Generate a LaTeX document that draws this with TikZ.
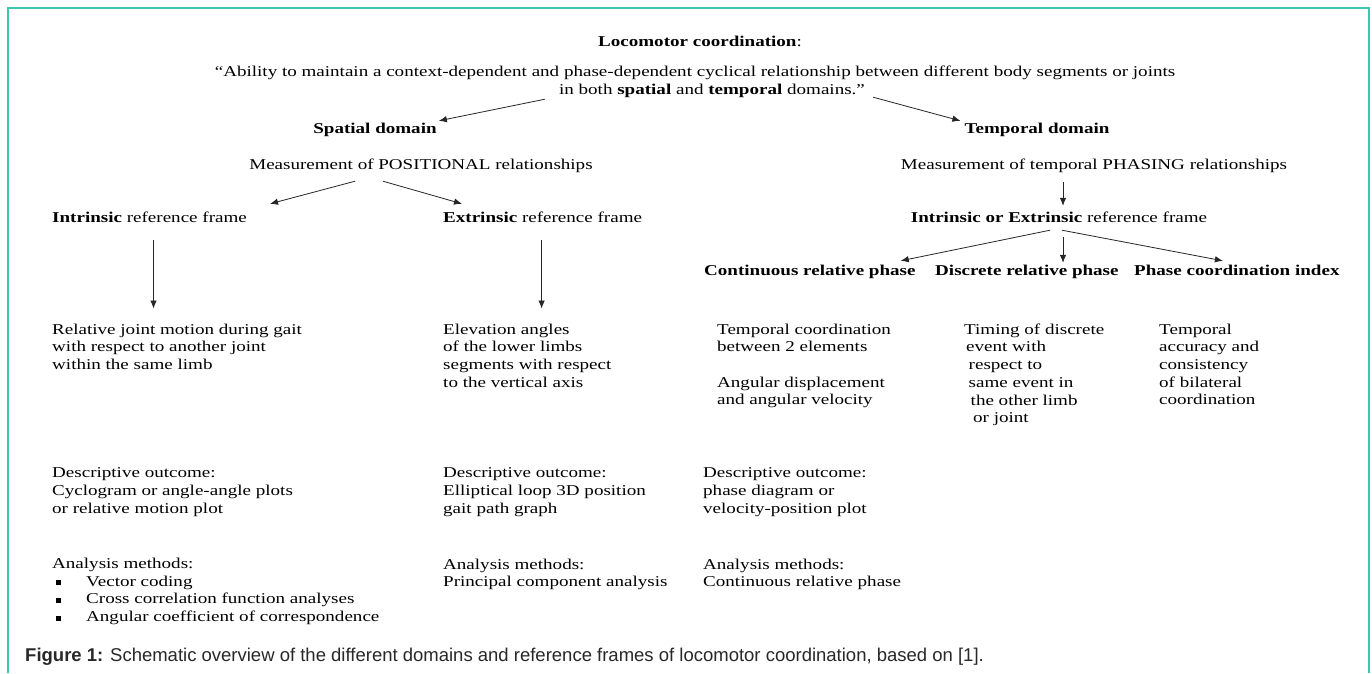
\documentclass[tikz,border=0pt]{standalone}
\usepackage{fontspec}
\setmainfont[FakeStretch=1.27]{Liberation Serif}
\newfontfamily\capfont{Liberation Sans}
\usetikzlibrary{calc,arrows.meta}
\definecolor{frameteal}{RGB}{60,200,175}
\definecolor{capgray}{RGB}{40,40,40}

\begin{document}
\begin{tikzpicture}[x=1pt,y=-1pt,
    txt/.style={inner sep=0pt, font=\fontsize{15}{17.7}\selectfont},
    one/.style={txt, text height=10.5pt, text depth=3.5pt},
    blk/.style={txt, align=left, anchor=north west},
    arr/.style={-{Latex[length=8pt,width=6.5pt]}, line width=0.8pt, black!85},
    sq/.style={fill=black, minimum size=5pt, inner sep=0pt}]

    \fill[white] (0,0) rectangle (1372,673);
    \useasboundingbox (0,0) rectangle (1372,673);
    \draw[frameteal, line width=2.5pt] (8,673) -- (8,8) -- (1369,8) -- (1369,673);

    % heading and definition
    \node[one] (loco) at (700,43) {\textbf{Locomotor coordination}:};
    \node[one] (q1) at (695,73) {“Ability to maintain a context-dependent and phase-dependent cyclical relationship between different body segments or joints};
    \node[one] (q2) at (712,91) {in both \textbf{spatial} and \textbf{temporal} domains.”};

    \node[one] (spat) at (375,130) {\textbf{Spatial domain}};
    \node[one] (temp) at (1037,130) {\textbf{Temporal domain}};
    \node[one] (mpos) at (421,166) {Measurement of POSITIONAL relationships};
    \node[one] (mtem) at (1094,166) {Measurement of temporal PHASING relationships};

    \node[one, anchor=west] (intr) at (52,219) {\textbf{Intrinsic} reference frame};
    \node[one, anchor=west] (extr) at (443,219) {\textbf{Extrinsic} reference frame};
    \node[one] (ioe) at (1059,219) {\textbf{Intrinsic or Extrinsic} reference frame};

    \node[one, anchor=west] (crp) at (704,272) {\textbf{Continuous relative phase}};
    \node[one, anchor=west] (drp) at (935,272) {\textbf{Discrete relative phase}};
    \node[one, anchor=west] (pci) at (1134,272) {\textbf{Phase coordination index}};

    % descriptions
    \node[blk] (rel) at (52,323.5) {Relative joint motion during gait\\with respect to another joint\\within the same limb};
    \node[blk] (elev) at (443,323.5) {Elevation angles\\of the lower limbs\\segments with respect\\to the vertical axis};
    \node[blk] (tcoord) at (717,323.5) {Temporal coordination\\between 2 elements\\[17.7pt]Angular displacement\\and angular velocity};
    \node[blk] (timing) at (964,323.5) {Timing of discrete\\\hspace*{2pt}event with\\\hspace*{4.5pt}respect to\\\hspace*{4.5pt}same event in\\\hspace*{6.5pt}the other limb\\\hspace*{9pt}or joint};
    \node[blk] (tacc) at (1159,323.5) {Temporal\\accuracy and\\consistency\\of bilateral\\coordination};

    \node[blk] (desc1) at (52,467.5) {Descriptive outcome:\\Cyclogram or angle-angle plots\\or relative motion plot};
    \node[blk] (desc2) at (443,467.5) {Descriptive outcome:\\Elliptical loop 3D position\\gait path graph};
    \node[blk] (desc3) at (703,467.5) {Descriptive outcome:\\phase diagram or\\velocity-position plot};

    \node[one, anchor=west] (ana1) at (52,565) {Analysis methods:};
    \foreach \t [count=\i] in {Vector coding, Cross correlation function analyses, Angular coefficient of correspondence}{
        \node[one, anchor=west] (m\i) at (86,565+17.7*\i) {\t};
        \node[sq] (b\i) at (58,565+17.7*\i) {};
    }
    \node[blk] (ana2) at (443,558.5) {Analysis methods:\\Principal component analysis};
    \node[blk] (ana3) at (703,558.5) {Analysis methods:\\Continuous relative phase};

    \node[inner sep=0pt, anchor=west, text=capgray, font=\capfont\fontsize{18.5}{22}\selectfont] (cap) at (25,657)
        {\textbf{Figure 1:} Schematic overview of the different domains and reference frames of locomotor coordination, based on [1].};

    % arrows
    \draw[arr] ($(q2.south west)+(-14,1)$) -- ($(spat.north east)+(2,-2)$);
    \draw[arr] ($(q2.south east)+(8,-1)$) -- ($(temp.north west)+(-4,-2)$);
    \draw[arr] ($(mpos.south)+(-66,8)$) -- ($(intr.north east)+(23,-8)$);
    \draw[arr] ($(mpos.south)+(-38,8)$) -- ($(extr.north west)+(19,-8)$);
    \draw[arr] ($(mtem.south)+(-31,9)$) -- ($(ioe.north)+(4,-6)$);
    \draw[arr] ($(ioe.south)+(-9,4)$) -- ($(crp.north east)+(-15,-4)$);
    \draw[arr] ($(ioe.south)+(4,11)$) -- ($(ioe.south |- drp.north)+(4,-2)$);
    \draw[arr] ($(ioe.south)+(3,4)$) -- ($(pci.north)+(-14,-4)$);
    \draw[arr] ($(intr.south)+(4,14)$) -- ($(intr.south |- rel.north)+(4,-15)$);
    \draw[arr] ($(extr.south)+(-1,14)$) -- ($(extr.south |- elev.north)+(-1,-15)$);
\end{tikzpicture}
\end{document}
